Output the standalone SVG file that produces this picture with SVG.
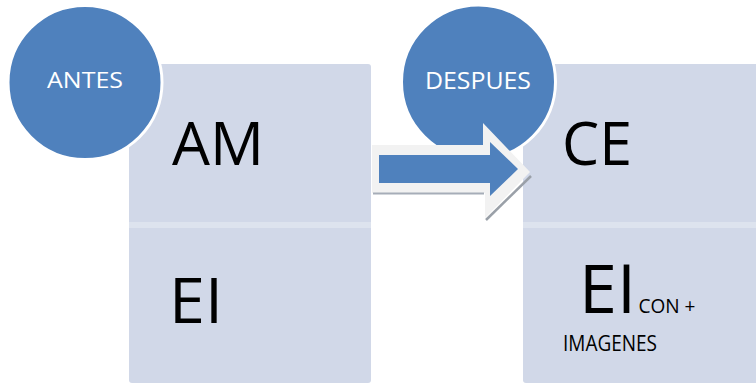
<svg xmlns="http://www.w3.org/2000/svg" width="756" height="385" viewBox="0 0 756 385">
<style>
.box{fill:#d1d8e8}
.band{fill:#dde3ee}
.circ{fill:#4f81bd;stroke:#ffffff;stroke-width:3}
.lbl{font-family:"Open Sans","Liberation Sans",sans-serif;fill:#ffffff}
.big{font-family:"Open Sans","Liberation Sans",sans-serif;fill:#000000}
</style>
<rect width="756" height="385" fill="#ffffff"/>
<g id="box-antes">
<rect class="box" x="129" y="64" width="242" height="319" rx="3"/>
<rect class="band" x="129" y="222" width="242" height="6"/>
<text class="big" x="172" y="165" font-size="60" textLength="92" lengthAdjust="spacingAndGlyphs">AM</text>
<text class="big" x="169" y="323" font-size="63" textLength="54" lengthAdjust="spacingAndGlyphs">EI</text>
</g>
<g id="box-despues">
<rect class="box" x="523" y="64" width="240" height="319" rx="3"/>
<rect class="band" x="523" y="222" width="240" height="6"/>
<text class="big" x="562" y="165" font-size="61" textLength="70" lengthAdjust="spacingAndGlyphs">CE</text>
<text class="big" x="579" y="313" font-size="68" textLength="57" lengthAdjust="spacingAndGlyphs">EI</text>
<text class="big" x="638.5" y="313" font-size="19.5" textLength="57" lengthAdjust="spacingAndGlyphs">CON +</text>
<text class="big" x="563" y="351" font-size="21" textLength="94" lengthAdjust="spacingAndGlyphs">IMAGENES</text>
</g>
<g id="node-antes">
<circle class="circ" cx="85" cy="82.5" r="77"/>
<text class="lbl" x="47" y="88" font-size="22.5" textLength="76" lengthAdjust="spacingAndGlyphs">ANTES</text>
</g>
<g id="node-despues">
<circle class="circ" cx="478.5" cy="82" r="77"/>
<text class="lbl" x="425" y="89" font-size="23" textLength="106" lengthAdjust="spacingAndGlyphs">DESPUES</text>
</g>
<g id="connectors">
<polygon points="372,145 483,145 483,123 530,172 485,218 485,193 372,193" fill="#f2f2f2"/>
<line x1="373" y1="193.5" x2="484" y2="193.5" stroke="#a6adb8" stroke-width="2"/>
<line x1="531" y1="176" x2="486" y2="220" stroke="#9aa0a8" stroke-width="2.5"/>
<polygon points="379,155 490,155 490,142 518,169 490,196 490,183 379,183" fill="#4f81bd"/>
</g>
</svg>
